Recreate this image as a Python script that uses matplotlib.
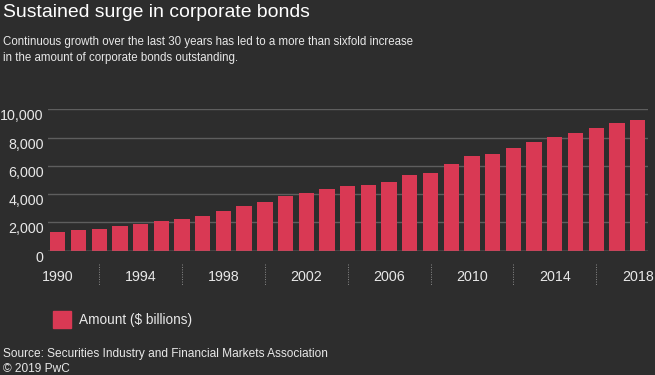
import matplotlib
matplotlib.use("Agg")
import matplotlib.pyplot as plt
from matplotlib import font_manager

# yillar va qiymatlar ($ mlrd)
yillar = list(range(1990, 2019))
qiymatlar = [1350, 1450, 1560, 1770, 1910, 2080, 2250, 2460, 2810, 3170,
             3430, 3860, 4070, 4350, 4590, 4660, 4890, 5320, 5510, 6130,
             6720, 6860, 7260, 7690, 8040, 8300, 8700, 9040, 9250]
belgi_yillar = [1990, 1994, 1998, 2002, 2006, 2010, 2014, 2018]
ajratgich_yillar = [1992, 1996, 2000, 2004, 2008, 2012, 2016]
y_belgilar = [0, 2000, 4000, 6000, 8000, 10000]

FON = "#2d2d2d"
QIZIL = "#d93954"
MATN = "#e8e8e8"
TOR = "#5e5e5e"

# tor shrift bormi, tekshiramiz
try:
    font_manager.findfont("Liberation Sans Narrow", fallback_to_default=False)
    shrift = "Liberation Sans Narrow"
    k = 1.0
except Exception:
    shrift = "Liberation Sans"
    k = 0.82

plt.rcParams["font.family"] = [shrift, "DejaVu Sans"]

fig = plt.figure(figsize=(6.55, 3.75), dpi=100, facecolor=FON)
ax = fig.add_axes([0.0733, 0.3315, 0.916, 0.377])
ax.set_facecolor(FON)

ax.bar(yillar, qiymatlar, width=0.74, color=QIZIL, zorder=3)

ax.set_xlim(1989.53, 2018.5)
ax.set_ylim(0, 10000)
ax.set_yticks(y_belgilar)
ax.set_yticklabels([f"{v:,}" for v in y_belgilar])
ax.set_xticks(belgi_yillar)
ax.set_xticklabels([str(v) for v in belgi_yillar])
ax.grid(axis="y", color=TOR, linewidth=1, zorder=0)
ax.axhline(0, color="#7a7a7a", linewidth=1, zorder=4)
for s in ax.spines.values():
    s.set_visible(False)
ax.tick_params(axis="y", length=0, colors=MATN, labelsize=12.5 * k, pad=3)
ax.tick_params(axis="x", length=0, colors=MATN, labelsize=12.5 * k, pad=14)
for lbl in ax.get_yticklabels():
    lbl.set_verticalalignment("top")

tr = ax.get_xaxis_transform()
for x in ajratgich_yillar:
    ax.plot([x, x], [-0.094, -0.243], transform=tr, clip_on=False,
            color="#8a8a8a", linewidth=0.7, linestyle=(0, (1, 1.5)))

fig.text(0.005, 0.99, "Sustained surge in corporate bonds", color="white",
         fontsize=17 * k, va="top", ha="left")
fig.text(0.005, 0.903, "Continuous growth over the last 30 years has led to a more than sixfold increase\n"
         "in the amount of corporate bonds outstanding.", color=MATN,
         fontsize=10.15 * k, va="top", ha="left", linespacing=1.45)

fig.patches.append(plt.Rectangle((53 / 655, 1 - 328 / 375), 18 / 655, 17 / 375,
                                 transform=fig.transFigure, color=QIZIL))
fig.text(79 / 655, 1 - 320 / 375, "Amount ($ billions)", color=MATN,
         fontsize=12 * k, va="center", ha="left")

fig.text(0.005, 1 - 354 / 375, "Source: Securities Industry and Financial Markets Association",
         color=MATN, fontsize=10.4 * k, va="center", ha="left")
fig.text(0.005, 1 - 369 / 375, "\u00a9 2019 PwC", color=MATN, fontsize=10.4 * k,
         va="center", ha="left")

plt.savefig("out.png", dpi=100, facecolor=FON)
